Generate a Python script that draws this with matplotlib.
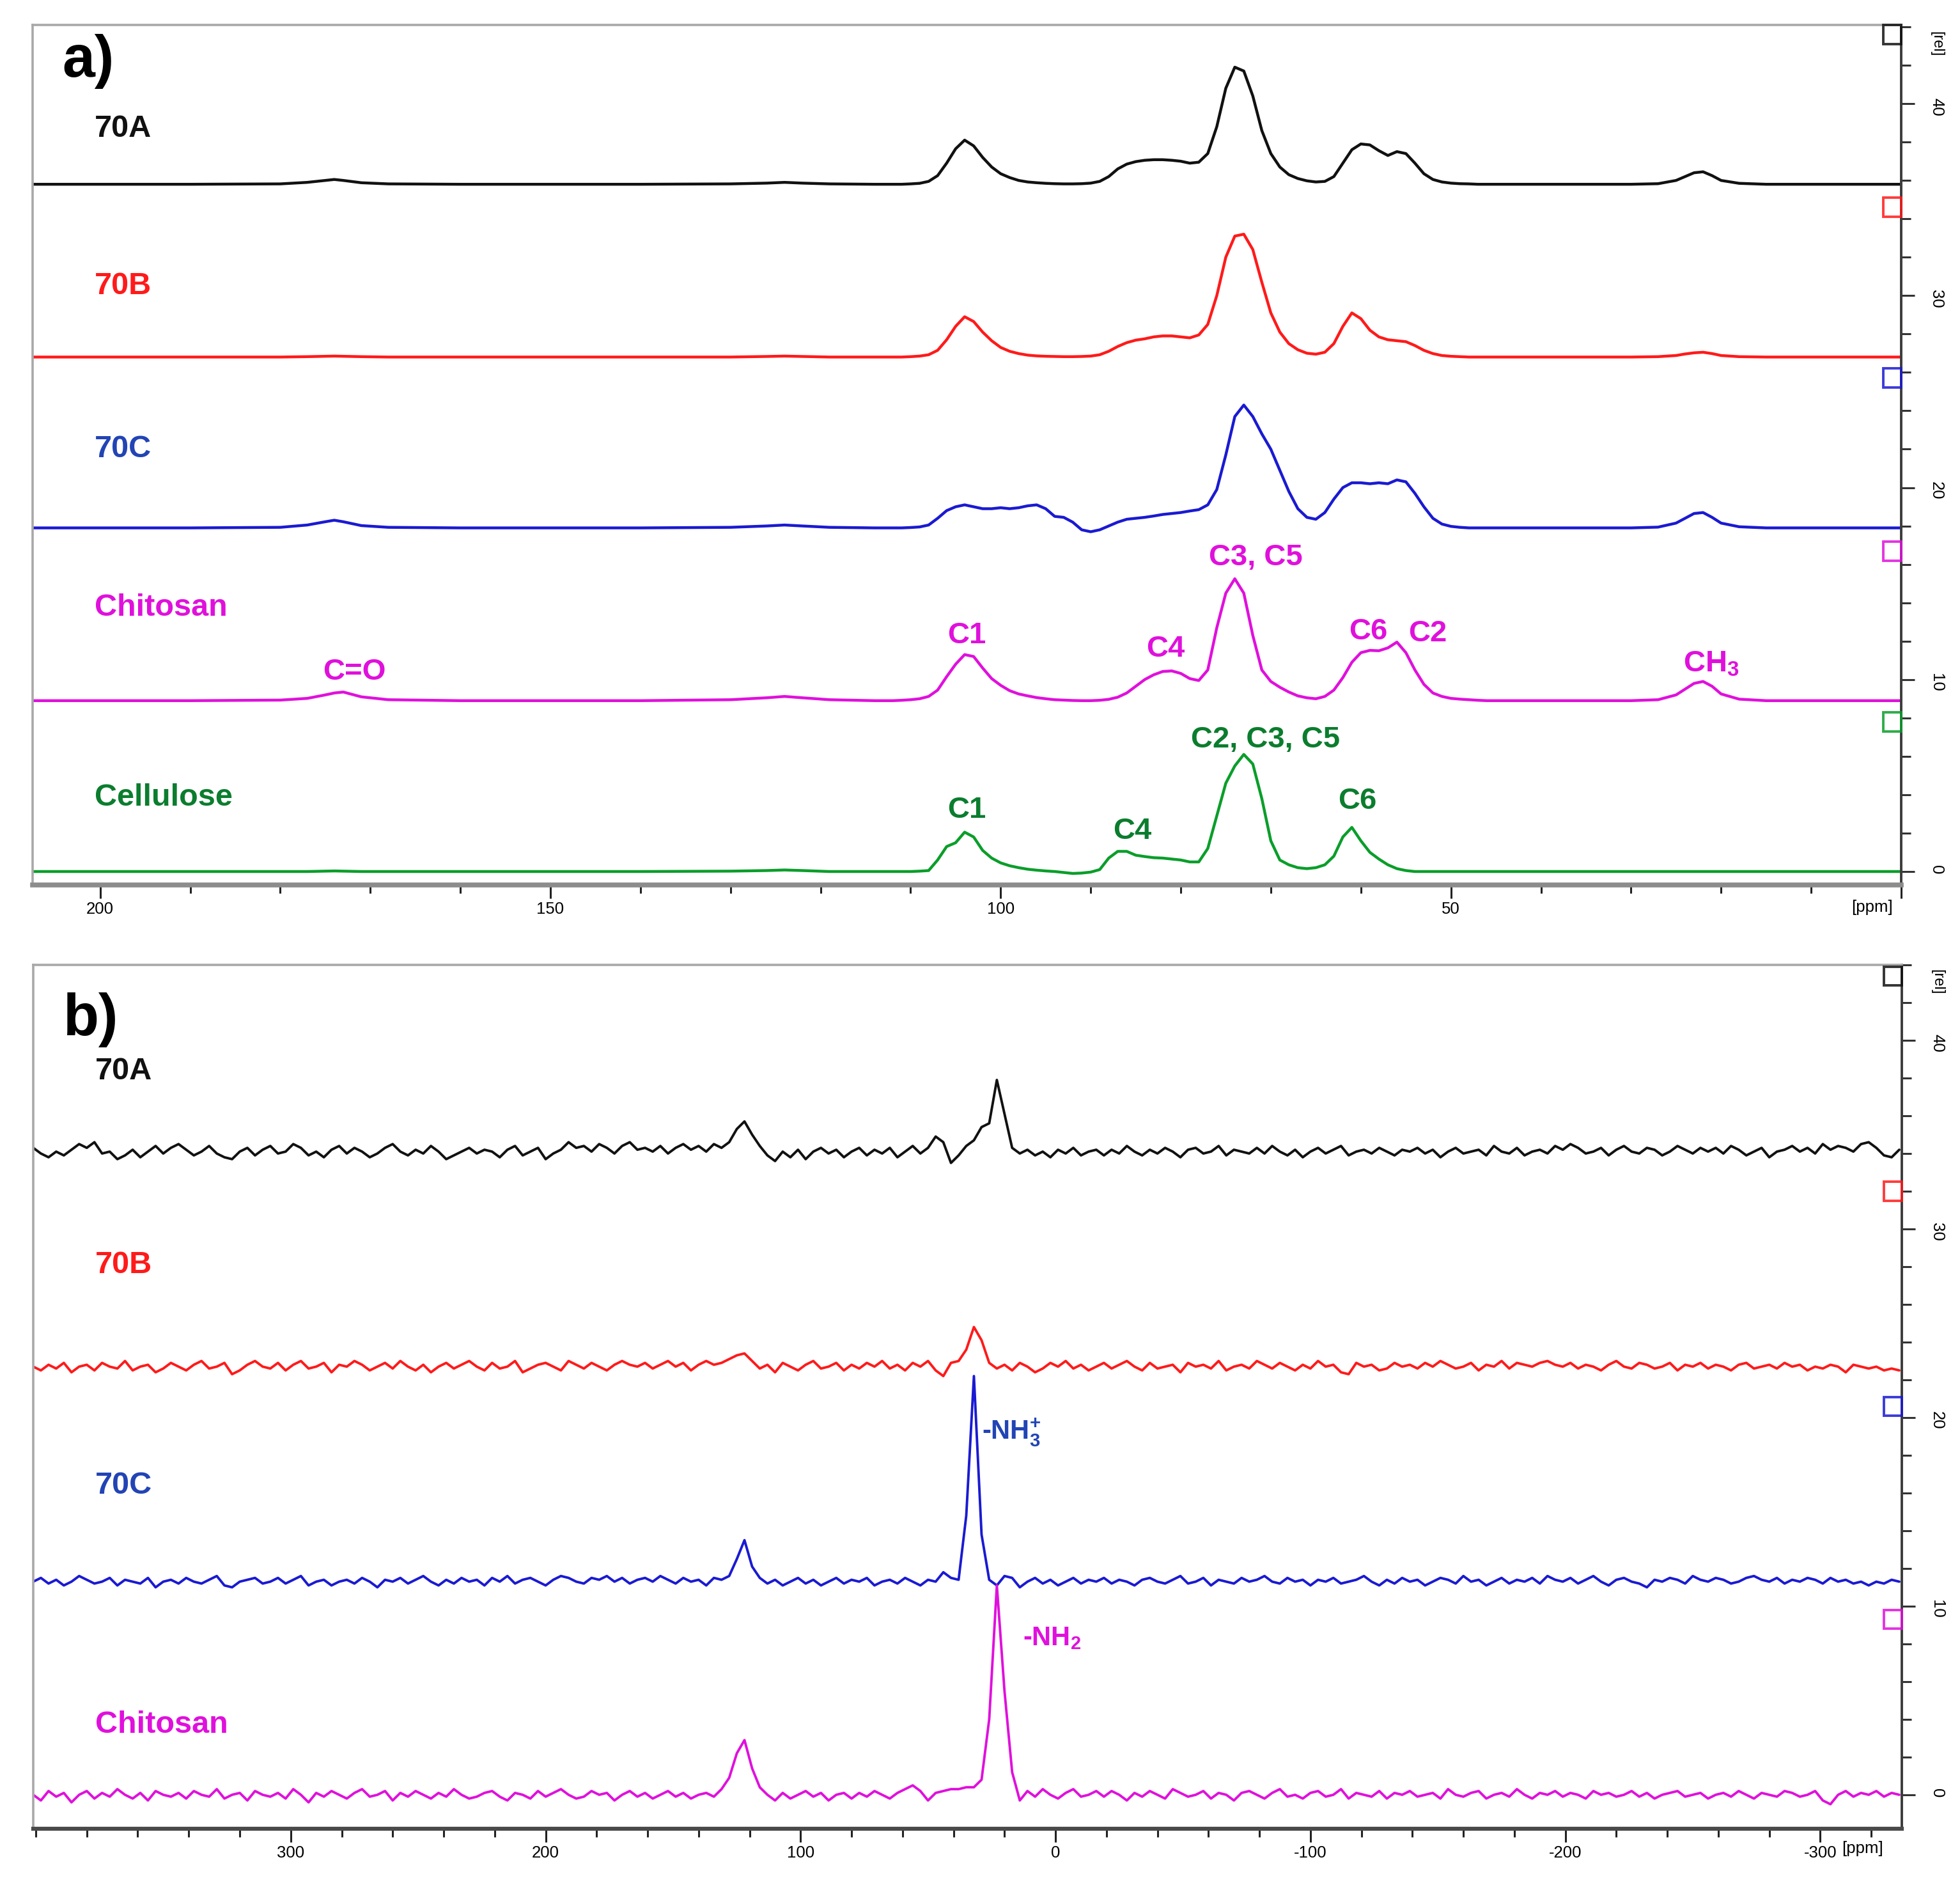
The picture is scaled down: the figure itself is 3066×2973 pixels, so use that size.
import numpy as np
import matplotlib
matplotlib.use("Agg")
import matplotlib.pyplot as plt
from matplotlib.patches import Rectangle
from matplotlib.ticker import MultipleLocator
import matplotlib.transforms as mtransforms

plt.rcParams["font.family"] = ["Liberation Sans", "DejaVu Sans"]
plt.rcParams["mathtext.fontset"] = "custom"
plt.rcParams["mathtext.rm"] = "Liberation Sans:bold"
plt.rcParams["mathtext.bf"] = "Liberation Sans:bold"
plt.rcParams["mathtext.it"] = "Liberation Sans:bold"
plt.rcParams["axes.unicode_minus"] = False

# --------------------------------------------------------------------------- #
# a) 13C CP/MAS spectra, intensity above each trace's own baseline
# --------------------------------------------------------------------------- #
ppm_a = np.concatenate([
    [207.5, 200, 190, 180, 177, 175, 174, 173, 171, 168, 160, 150, 140, 130, 126, 124, 122, 119, 114],
    np.arange(112, 45, -1),
    [42, 36, 30, 27, 25, 24, 23, 22, 21, 20, 18, 15, 10, 5, 0],
])

a_70a = ([0, 0, 0, 0.02, 0.1, 0.2, 0.25, 0.2, 0.08, 0.02, 0, 0, 0, 0.02, 0.06, 0.1, 0.06, 0.02, 0]
         + [0, 0, 0.02, 0.05, 0.15, 0.45, 1.1, 1.85, 2.3, 2.0,
            1.4, 0.9, 0.55, 0.35, 0.2, 0.12, 0.08, 0.05, 0.03, 0.02,
            0.02, 0.03, 0.06, 0.15, 0.4, 0.8, 1.05, 1.18, 1.25, 1.28,
            1.28, 1.25, 1.2, 1.1, 1.15, 1.6, 3.0, 5.0, 6.1, 5.9,
            4.6, 2.8, 1.6, 0.9, 0.5, 0.3, 0.18, 0.12, 0.15, 0.4,
            1.1, 1.8, 2.1, 2.05, 1.75, 1.5, 1.7, 1.6, 1.1, 0.55,
            0.25, 0.12, 0.06, 0.03, 0.02, 0, 0]
         + [0, 0, 0, 0.03, 0.2, 0.4, 0.6, 0.65, 0.45, 0.2, 0.05, 0, 0, 0, 0])

a_70b = ([0, 0, 0, 0, 0.02, 0.04, 0.05, 0.04, 0.02, 0, 0, 0, 0, 0, 0.03, 0.05, 0.03, 0, 0]
         + [0, 0, 0.02, 0.05, 0.12, 0.35, 0.9, 1.6, 2.1, 1.85,
            1.3, 0.85, 0.5, 0.3, 0.18, 0.1, 0.06, 0.04, 0.03, 0.02,
            0.02, 0.03, 0.05, 0.12, 0.3, 0.55, 0.75, 0.88, 0.95, 1.05,
            1.1, 1.1, 1.05, 1.0, 1.15, 1.7, 3.2, 5.2, 6.3, 6.4,
            5.6, 3.9, 2.3, 1.3, 0.7, 0.38, 0.2, 0.15, 0.25, 0.7,
            1.6, 2.3, 2.0, 1.4, 1.05, 0.9, 0.85, 0.8, 0.6, 0.35,
            0.18, 0.08, 0.04, 0.02, 0, 0, 0]
         + [0, 0, 0, 0.02, 0.08, 0.16, 0.22, 0.25, 0.18, 0.08, 0.02, 0, 0, 0, 0])

a_70c = ([0, 0, 0, 0.03, 0.15, 0.32, 0.4, 0.32, 0.12, 0.03, 0, 0, 0, 0.03, 0.1, 0.15, 0.1, 0.03, 0]
         + [0, 0, 0.02, 0.05, 0.15, 0.5, 0.9, 1.1, 1.2, 1.1,
            1.0, 1.0, 1.05, 1.0, 1.05, 1.15, 1.2, 1.0, 0.6, 0.55,
            0.3, -0.1, -0.2, -0.1, 0.1, 0.3, 0.45, 0.5, 0.55, 0.62,
            0.7, 0.75, 0.8, 0.88, 0.95, 1.2, 2.0, 3.8, 5.8, 6.4,
            5.8, 4.9, 4.1, 3.0, 1.9, 1.0, 0.55, 0.45, 0.8, 1.5,
            2.1, 2.35, 2.35, 2.3, 2.35, 2.3, 2.5, 2.4, 1.8, 1.1,
            0.5, 0.2, 0.08, 0.03, 0, 0, 0]
         + [0, 0, 0, 0.04, 0.25, 0.5, 0.75, 0.8, 0.55, 0.25, 0.06, 0, 0, 0, 0])

a_chitosan = ([0, 0, 0, 0.03, 0.12, 0.3, 0.4, 0.45, 0.2, 0.05, 0, 0, 0, 0.05, 0.15, 0.22, 0.15, 0.05, 0]
              + [0, 0.02, 0.05, 0.1, 0.22, 0.55, 1.25, 1.9, 2.4, 2.3,
                 1.7, 1.15, 0.8, 0.52, 0.35, 0.25, 0.16, 0.1, 0.05, 0.03,
                 0.01, 0, 0, 0.02, 0.07, 0.18, 0.4, 0.75, 1.1, 1.35,
                 1.52, 1.55, 1.42, 1.15, 1.05, 1.6, 3.8, 5.6, 6.35, 5.6,
                 3.4, 1.6, 1.0, 0.7, 0.45, 0.25, 0.15, 0.1, 0.22, 0.55,
                 1.2, 2.0, 2.5, 2.62, 2.6, 2.75, 3.05, 2.5, 1.6, 0.85,
                 0.4, 0.22, 0.12, 0.08, 0.05, 0.02, 0]
              + [0, 0, 0, 0.05, 0.3, 0.6, 0.9, 1.0, 0.75, 0.35, 0.08, 0, 0, 0, 0])

a_cellulose = ([0, 0, 0, 0, 0, 0.02, 0.03, 0.02, 0, 0, 0, 0, 0, 0.02, 0.05, 0.08, 0.05, 0, 0]
               + [0, 0, 0, 0.02, 0.05, 0.6, 1.3, 1.5, 2.05, 1.8,
                  1.1, 0.7, 0.45, 0.3, 0.2, 0.12, 0.07, 0.03, 0, -0.05,
                  -0.1, -0.08, -0.03, 0.1, 0.7, 1.05, 1.05, 0.85, 0.78, 0.72,
                  0.7, 0.65, 0.6, 0.5, 0.5, 1.2, 2.9, 4.6, 5.5, 6.1,
                  5.6, 3.8, 1.6, 0.6, 0.35, 0.2, 0.15, 0.2, 0.35, 0.8,
                  1.8, 2.3, 1.6, 1.0, 0.65, 0.35, 0.15, 0.05, 0, 0,
                  0, 0, 0, 0, 0, 0, 0]
               + [0] * 15)

names = ["70A", "70B", "70C", "Chitosan", "Cellulose"]
trace_colors = ["#111111", "#ff1a1a", "#1a1ad2", "#e010dc", "#0a9e2a"]
label_colors = ["#111111", "#ff1a1a", "#2244b4", "#e010dc", "#0b7d2e"]
offsets_a = [35.8, 26.8, 17.9, 8.9, 0.0]
label_y_a = [38.7, 30.5, 22.0, 13.75, 3.85]

# peak assignments: (text, ppm, y in axis units, colour index)
peaks_a = [
    ("C=O", 171.8, 10.4, 3), ("C1", 103.75, 12.3, 3), ("C4", 81.7, 11.6, 3),
    ("C3, C5", 71.7, 16.35, 3), ("C6", 59.2, 12.5, 3), ("C2", 52.6, 12.4, 3),
    (r"CH$_\mathbf{3}$", 21.1, 10.8, 3),
    ("C1", 103.75, 3.2, 4), ("C4", 85.4, 2.1, 4), ("C2, C3, C5", 70.6, 6.85, 4),
    ("C6", 60.4, 3.65, 4),
]

# --------------------------------------------------------------------------- #
# b) 15N spectra, intensities in tenths of an axis unit, sampled every 3 ppm
# --------------------------------------------------------------------------- #
ppm_b = 401 - 3 * np.arange(245)

b_70a = [2, -1, -3, 0, -2, 1, 4, 2, 5, -1, 0, -4, -2, 1, -3, 0, 3, -1, 2, 4,
         1, -2, 0, 3, -1, -3, -4, 0, 2, -2, 1, 3, -1, 0, 4, 2, -2, 0, -3, 1,
         3, -1, 2, 0, -3, -1, 2, 4, 0, -2, 1, -1, 3, 0, -4, -2, 0, 2, -1, 1,
         0, -3, 1, 3, -2, 0, 2, -4, -1, 1, 5, 2, 3, 0, 4, 2, -1, 3, 5, 1,
         2, 0, 3, -1, 2, 4, 1, 3, 0, 4, 2, 5, 12, 16, 9, 3, -2, -5, 0, -3,
         1, -4, 0, 2, -1, 1, -3, 0, 2, -2, 1, -1, 2, -3, 0, 3, -1, 2, 8, 5,
         -6, -2, 3, 6, 13, 15, 38, 20, 2, -1, 1, -2, 0, -3, 1, -1, 2, -2, 0, 1,
         -2, 1, -1, 3, 0, -2, 1, -1, 2, 0, -3, 1, 2, -1, 0, 3, -2, 1, 0, -1,
         2, -1, 3, 0, -2, 1, -3, 0, 2, -1, 1, 3, -2, 0, 1, -1, 2, 0, -2, 1,
         0, 2, -1, 1, -3, 0, 2, -1, 0, 1, -2, 3, 0, -1, 2, -2, 0, 1, -1, 3,
         1, 4, 2, -1, 0, 2, -2, 1, 3, 0, -1, 2, 1, -2, 0, 3, 1, -1, 2, 0,
         2, -1, 3, 1, -2, 0, 2, -3, 0, 1, 3, 0, 2, -1, 4, 1, 3, 2, 0, 4,
         5, 2, -2, -3, 1]

b_70b = [0, -2, 1, -1, 2, -3, 0, 1, -2, 2, 0, -1, 3, -2, 0, 1, -3, -1, 2, 0,
         -2, 1, 3, -1, 0, 2, -4, -2, 1, 3, 0, -1, 2, -2, 1, 3, -1, 0, 2, -3,
         1, 0, 3, 1, -2, 0, 2, -1, 3, 0, -2, 1, -3, 0, 2, -1, 1, 3, 0, -2,
         2, -1, 0, 3, -3, -1, 1, 2, 0, -2, 3, 1, -1, 2, 0, -2, 1, 3, 1, 0,
         2, -1, 1, 3, 0, 2, -2, 1, 3, 1, 2, 4, 6, 7, 3, -1, 1, -3, 2, 0,
         -2, 1, 3, -1, 0, 2, -2, 1, -1, 2, 0, 3, -1, 1, -2, 2, 0, 3, -2, -5,
         2, 3, 9, 21, 14, 2, -1, 1, -2, 2, 0, -3, -1, 2, 0, 3, -1, 1, -2, 0,
         2, -1, 1, 3, 0, -2, 2, -1, 0, 1, -3, 2, 0, 1, -1, 3, -2, 0, 1, -1,
         3, 1, -1, 2, 0, -2, 1, -1, 3, 0, 1, -3, -4, 2, 0, 1, -2, -1, 2, 0,
         1, -1, 2, 0, 3, 1, -1, 0, 2, -2, 1, 0, 3, -1, 2, 1, 0, 2, 3, 1,
         0, 2, -1, 1, 0, -2, 1, 3, 0, -1, 2, 1, -1, 0, 2, -2, 1, 0, 2, -1,
         1, 0, -2, 1, 2, -1, 0, 1, -1, 2, 0, 1, -2, 0, -1, 1, 0, -3, 1, 0,
         -1, 0, -2, -1, -2]

b_70c = [0, 2, -1, 1, -2, 0, 3, 1, -1, 0, 2, -2, 1, 0, -1, 2, -3, 0, 1, -1,
         2, 0, -1, 1, 3, -2, -3, 0, 1, 2, -1, 0, 2, -1, 1, 3, -2, 0, 1, -2,
         0, 1, -1, 2, 0, -3, 1, 0, 2, -1, 1, 3, 0, -2, 1, -1, 2, 0, 1, -2,
         2, 0, 3, -1, 1, 2, 0, -2, 1, 3, 2, 0, -1, 2, 1, 3, 0, 2, -1, 1,
         2, 0, 3, 1, -1, 2, 0, 1, -2, 2, 1, 3, 12, 22, 8, 2, -1, 1, -2, 0,
         2, -1, 1, -2, 0, 2, -1, 1, 0, 2, -2, 0, 1, -1, 2, 0, -2, 1, 0, 5,
         2, 1, 35, 109, 25, 1, -2, 3, 2, -3, 0, 2, -1, 1, -2, 0, 2, -1, 1, 0,
         2, -1, 1, 0, -2, 1, 2, 0, -1, 1, 3, -1, 0, 2, -2, 1, 0, -1, 2, 0,
         1, 3, 0, -1, 2, 0, 1, -2, 1, 0, 2, -1, 0, 1, 3, 0, -2, 1, -1, 2,
         0, 1, -2, 0, 2, 1, -1, 3, 0, 1, -2, 0, 2, -1, 1, 0, 2, -1, 3, 1,
         0, 2, -1, 1, 3, 0, -2, 1, 2, 0, -1, -3, 1, 0, 2, 1, -1, 3, 1, 0,
         2, 1, -1, 0, 2, 3, 1, 0, 2, -1, 1, 0, 2, 1, -1, 2, 0, 1, -1, 0,
         -2, 0, -1, 1, 0]

b_chitosan = [0, -3, 2, -1, 1, -4, 0, 2, -2, 1, -1, 3, 0, -2, 1, -3, 2, 0, -1, 1,
              -2, 2, 0, -1, 3, -2, 0, 1, -3, 2, 0, -1, 1, -2, 3, 0, -4, 1, -1, 2,
              0, -2, 1, 3, -1, 0, 2, -3, 1, -1, 2, 0, -2, 1, -1, 3, 0, -2, -1, 1,
              2, -1, -3, 1, 0, -2, 2, -1, 1, 3, 0, -2, -1, 2, 0, 1, -3, 0, 2, -1,
              1, -2, 0, 2, -1, 1, -2, 0, 1, -1, 3, 9, 22, 29, 14, 4, 0, -3, 1, -2,
              0, 2, -1, 1, -3, 0, 1, -2, 1, -1, 2, 0, -2, 1, 3, 5, 2, -3, 1, 2,
              3, 3, 4, 4, 8, 40, 111, 55, 12, -3, 2, -1, 3, 0, -2, 1, 3, -1, 0, 2,
              -1, 2, 0, -3, 1, -1, 2, 0, -2, 3, 1, -1, 0, 2, -2, 1, 0, -3, 1, 2,
              0, -2, 1, 3, -1, 0, -2, 1, 2, -1, 0, 3, -2, 1, 0, -1, 2, -2, 1, 0,
              2, -1, 0, 1, -2, 3, 0, -1, 1, 2, -2, 0, 1, -1, 3, 0, -2, 1, 0, 2,
              -1, 1, 0, -2, 2, 0, 1, -1, 0, 2, -1, 1, -2, 0, 1, 2, -1, 0, 1, -2,
              0, 1, -1, 2, 0, -2, 1, 0, -1, 2, 1, -1, 0, 2, -3, -5, 0, 2, -1, 1,
              0, 2, -1, 1, 0]

names_b = ["70A", "70B", "70C", "Chitosan"]
offsets_b = [34.1, 22.7, 11.3, 0.0]
label_y_b = [38.35, 28.1, 16.4, 3.7]
peaks_b = [(r"-NH$_\mathbf{3}^\mathbf{+}$", 28.9, 19.2, 2), (r"-NH$_\mathbf{2}$", 12.7, 8.3, 3)]

W, H = 3066, 2973
fig = plt.figure(figsize=(W / 100, H / 100), dpi=100)
ax_a = fig.add_axes([51 / W, 1 - 1384 / H, 2923 / W, 1345 / H])
ax_b = fig.add_axes([52 / W, 1 - 2860 / H, 2923 / W, 1351 / H])


def style_axes(ax, xlim, ylim, xticks, xlabels, xminor, bottom_color, bottom_lw):
    ax.set_xlim(*xlim)
    ax.set_ylim(*ylim)
    ax.set_xticks(xticks, xlabels)
    ax.xaxis.set_minor_locator(MultipleLocator(xminor))
    ax.set_yticks([0, 10, 20, 30, 40])
    ax.yaxis.set_minor_locator(MultipleLocator(2))
    for side in ("left", "top"):
        ax.spines[side].set_color("#a8a8a8")
        ax.spines[side].set_linewidth(2.6)
    ax.spines["bottom"].set_color(bottom_color)
    ax.spines["bottom"].set_linewidth(bottom_lw)
    ax.spines["right"].set_color("#3c3c3c")
    ax.spines["right"].set_linewidth(2.8)
    ax.tick_params(axis="x", which="major", direction="out", length=15, width=2.2,
                   color="#222222", labelsize=18.5, pad=4)
    ax.tick_params(axis="x", which="minor", direction="out", length=9, width=2.2, color="#222222")
    ax.tick_params(axis="y", which="both", left=False, right=True, labelleft=False,
                   labelright=True, direction="out", width=2.2, color="#333333")
    ax.tick_params(axis="y", which="major", length=15, labelsize=18.5, pad=16, labelrotation=270)
    ax.tick_params(axis="y", which="minor", length=11)
    tr = mtransforms.blended_transform_factory(ax.transAxes, ax.transData)
    ax.text(1.019, 43.1, "[rel]", transform=tr, rotation=270, fontsize=17,
            ha="center", va="center")


def add_boxes(ax, offsets, shift, colors):
    tr = mtransforms.blended_transform_factory(ax.transAxes, ax.transData)
    for off, c in zip(offsets, colors):
        ax.add_patch(Rectangle((1 - 28 / 2923, off + shift - 0.5), 28 / 2923, 1.0,
                               transform=tr, fill=False, edgecolor=c, lw=2.8,
                               alpha=0.85, clip_on=False, zorder=5))


# ---- panel a ----
traces_a = [a_70a, a_70b, a_70c, a_chitosan, a_cellulose]
for vals, off, c in zip(traces_a, offsets_a, trace_colors):
    ax_a.plot(ppm_a, off + np.array(vals), color=c, lw=3.2,
              solid_joinstyle="round", solid_capstyle="round")

style_axes(ax_a, (207.5, 0), (-0.7, 44.1), [200, 150, 100, 50, 0],
           ["200", "150", "100", "50", ""], 10, "#8c8c8c", 5.5)
add_boxes(ax_a, offsets_a, 7.8, trace_colors)
ax_a.text(0.9846, -0.026, "[ppm]", transform=ax_a.transAxes, fontsize=18.5,
          ha="center", va="center")

tra = mtransforms.blended_transform_factory(ax_a.transAxes, ax_a.transData)
ax_a.text(0.016, 42.2, "a)", transform=tra, fontsize=66, fontweight="bold",
          ha="left", va="center")
for name, y, c in zip(names, label_y_a, label_colors):
    ax_a.text(0.0332, y, name, transform=tra, fontsize=35, fontweight="bold",
              color=c, ha="left", va="center")
for txt, x, y, ci in peaks_a:
    ax_a.text(x, y, txt, fontsize=34, fontweight="bold", color=label_colors[ci],
              ha="center", va="center")

# ---- panel b ----
traces_b = [b_70a, b_70b, b_70c, b_chitosan]
for vals, off, c in zip(traces_b, offsets_b, trace_colors):
    ax_b.plot(ppm_b, off + np.array(vals) / 10.0, color=c, lw=2.8,
              solid_joinstyle="round", solid_capstyle="round")

style_axes(ax_b, (401, -332), (-1.8, 44.0), [300, 200, 100, 0, -100, -200, -300],
           ["300", "200", "100", "0", "-100", "-200", "-300"], 20, "#4a4a4a", 4.5)
add_boxes(ax_b, offsets_b, 9.3, trace_colors[:4])
ax_b.text(0.979, -0.023, "[ppm]", transform=ax_b.transAxes, fontsize=18.5,
          ha="center", va="center")

trb = mtransforms.blended_transform_factory(ax_b.transAxes, ax_b.transData)
ax_b.text(0.016, 41.1, "b)", transform=trb, fontsize=66, fontweight="bold",
          ha="left", va="center")
for name, y, c in zip(names_b, label_y_b, label_colors):
    ax_b.text(0.0332, y, name, transform=trb, fontsize=35, fontweight="bold",
              color=c, ha="left", va="center")
for txt, x, y, ci in peaks_b:
    ax_b.text(x, y, txt, fontsize=30, fontweight="bold", color=label_colors[ci],
              ha="left", va="center")

fig.savefig("out.png", dpi=100, facecolor="white")
